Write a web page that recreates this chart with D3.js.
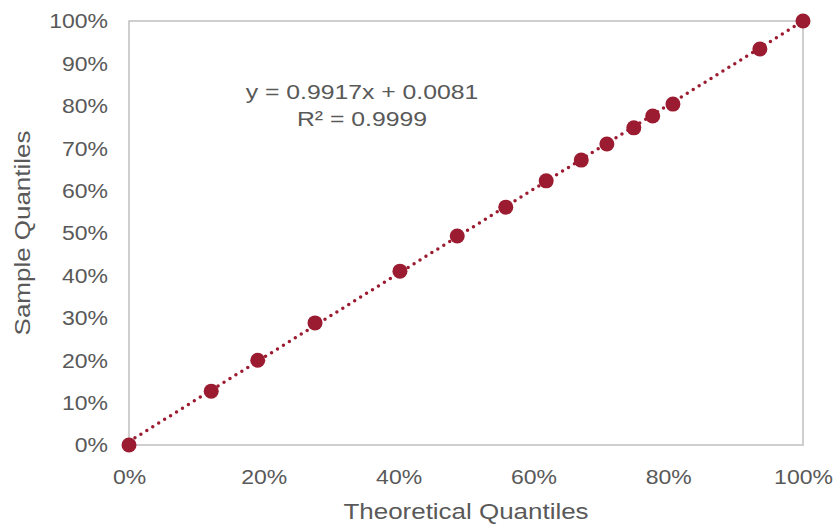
<!doctype html>
<title>Q-Q plot</title>
<script src="https://cdn.jsdelivr.net/npm/d3@7"></script>
<style>
body, html {
  margin: 0;
  background: #fff;
}
text {
  font-family: "Liberation Sans", Arial, sans-serif;
  fill: #595959;
}
</style>
<div id="chart"></div>
<script>
var width = 837;
var height = 527;

// data
var theoretical = [0, 0.122, 0.191, 0.276, 0.402, 0.487, 0.559, 0.619, 0.671, 0.709, 0.749, 0.777, 0.807, 0.936, 1];
var sample = [0, 0.127, 0.200, 0.288, 0.410, 0.493, 0.561, 0.623, 0.672, 0.710, 0.748, 0.776, 0.804, 0.934, 1];
var tickValues = [0, 0.1, 0.2, 0.3, 0.4, 0.5, 0.6, 0.7, 0.8, 0.9, 1];
var xTickValues = [0, 0.2, 0.4, 0.6, 0.8, 1];
var slope = 0.9917;
var intercept = 0.0081;
var equationLines = ["y = 0.9917x + 0.0081", "R\u00b2 = 0.9999"];

var margin = {top: 21, right: 34, bottom: 82, left: 129};
var red = "#9b1b30";
var stretch = "scale(1.18,1)"; // text in the original is a bit wide

var svg = d3.select("#chart")
  .append("svg")
  .attr("width", width)
  .attr("height", height);

var x = d3.scaleLinear().domain([0, 1]).range([margin.left, width - margin.right]);
var y = d3.scaleLinear().domain([0, 1]).range([height - margin.bottom, margin.top]);

// plot frame
svg.append("rect")
  .attr("x", x(0))
  .attr("y", y(1))
  .attr("width", x(1) - x(0))
  .attr("height", y(0) - y(1))
  .attr("fill", "none")
  .attr("stroke", "#bfbfbf")
  .attr("stroke-width", 1.5);

// axes (labels only)
var fmt = d3.format(".0%");
var yAxis = svg.append("g")
  .attr("transform", "translate(" + (x(0) - 21) + ",0)")
  .call(d3.axisLeft(y).tickValues(tickValues).tickFormat(fmt).tickSize(0).tickPadding(0));
var xAxis = svg.append("g")
  .attr("transform", "translate(0," + (y(0) + 21) + ")")
  .call(d3.axisBottom(x).tickValues(xTickValues).tickFormat(fmt).tickSize(0).tickPadding(0));
[xAxis, yAxis].forEach(function(g) {
  g.select(".domain").remove();
  g.selectAll("text")
    .attr("fill", "#595959")
    .attr("transform", stretch)
    .style("font-size", "19.5px")
    .style("font-family", "Liberation Sans, Arial, sans-serif");
});
yAxis.selectAll("text").attr("dy", "0.35em");
xAxis.selectAll("text").attr("dy", "0.9em");

// axis titles
svg.append("g")
  .attr("transform", "translate(" + ((x(0) + x(1)) / 2) + ",519) " + stretch)
  .append("text")
  .attr("text-anchor", "middle")
  .style("font-size", "22px")
  .text("Theoretical Quantiles");

svg.append("g")
  .attr("transform", "translate(30," + ((y(0) + y(1)) / 2) + ") rotate(-90) " + stretch)
  .append("text")
  .attr("text-anchor", "middle")
  .style("font-size", "22px")
  .text("Sample Quantiles");

// trendline
svg.append("line")
  .attr("x1", x(0))
  .attr("y1", y(intercept))
  .attr("x2", x(1))
  .attr("y2", y(slope + intercept))
  .attr("stroke", red)
  .attr("stroke-width", 3.5)
  .attr("stroke-linecap", "round")
  .attr("stroke-dasharray", "0 7");

// points
svg.selectAll("circle.pt")
  .data(theoretical)
  .enter()
  .append("circle")
  .attr("class", "pt")
  .attr("cx", function(d) { return x(d); })
  .attr("cy", function(d, i) { return y(sample[i]); })
  .attr("r", 7.5)
  .attr("fill", red);

// equation label
svg.selectAll("g.eq")
  .data(equationLines)
  .enter()
  .append("g")
  .attr("class", "eq")
  .attr("transform", function(d, i) { return "translate(362," + (99 + i * 27) + ") " + stretch; })
  .append("text")
  .attr("text-anchor", "middle")
  .style("font-size", "21px")
  .text(function(d) { return d; });
</script>
